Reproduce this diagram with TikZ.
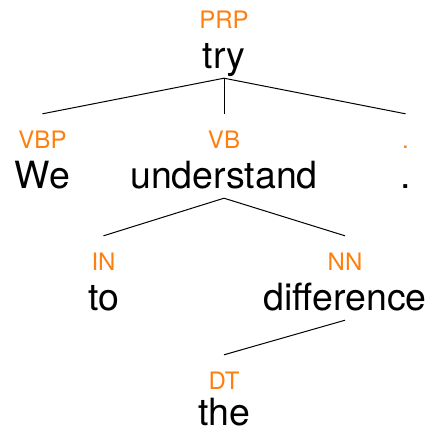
\documentclass[tikz,border=0pt]{standalone}
\usepackage{fontspec}
\setmainfont{TeX Gyre Heros}
\definecolor{tagorange}{RGB}{255,127,14}

\begin{document}
\begin{tikzpicture}[x=1pt, y=-1pt,
  tag/.style={anchor=base, inner sep=0pt, text height=34pt, text=tagorange, font=\fontsize{24}{24}\selectfont},
  word/.style={anchor=base, inner sep=0pt, text depth=10pt, font=\fontsize{37.5}{38}\selectfont},
  edge/.style={line width=1pt}]
              \useasboundingbox (0,0) rectangle (429,429);
              \node[tag] (prp) at (224, 28) {PRP};
              \node[word] (try) at (224, 68) {try};
              \node[tag] (vbp) at (42.5, 148) {VBP};
              \node[word] (we) at (42.5, 188) {We};
              \node[tag] (vb) at (224, 148) {VB};
              \node[word] (understand) at (224, 188) {understand};
              \node[tag] (punct) at (405.5, 148) {.};
              \node[word] (dot) at (405.5, 188) {.};
              \node[tag] (in) at (103.5, 270) {IN};
              \node[word] (to) at (103.5, 310) {to};
              \node[tag] (nn) at (345, 270) {NN};
              \node[word] (difference) at (345, 310) {difference};
              \node[tag] (dt) at (224, 389) {DT};
              \node[word, text depth=0pt] (the) at (224, 425) {the};
              \draw[edge] (try.south) -- (vbp.north);
              \draw[edge] (try.south) -- (vb.north);
              \draw[edge] (try.south) -- (punct.north);
              \draw[edge] (understand.south) -- (in.north);
              \draw[edge] (understand.south) -- (nn.north);
              \draw[edge] (difference.south) -- (dt.north);
        \end{tikzpicture}
\end{document}
